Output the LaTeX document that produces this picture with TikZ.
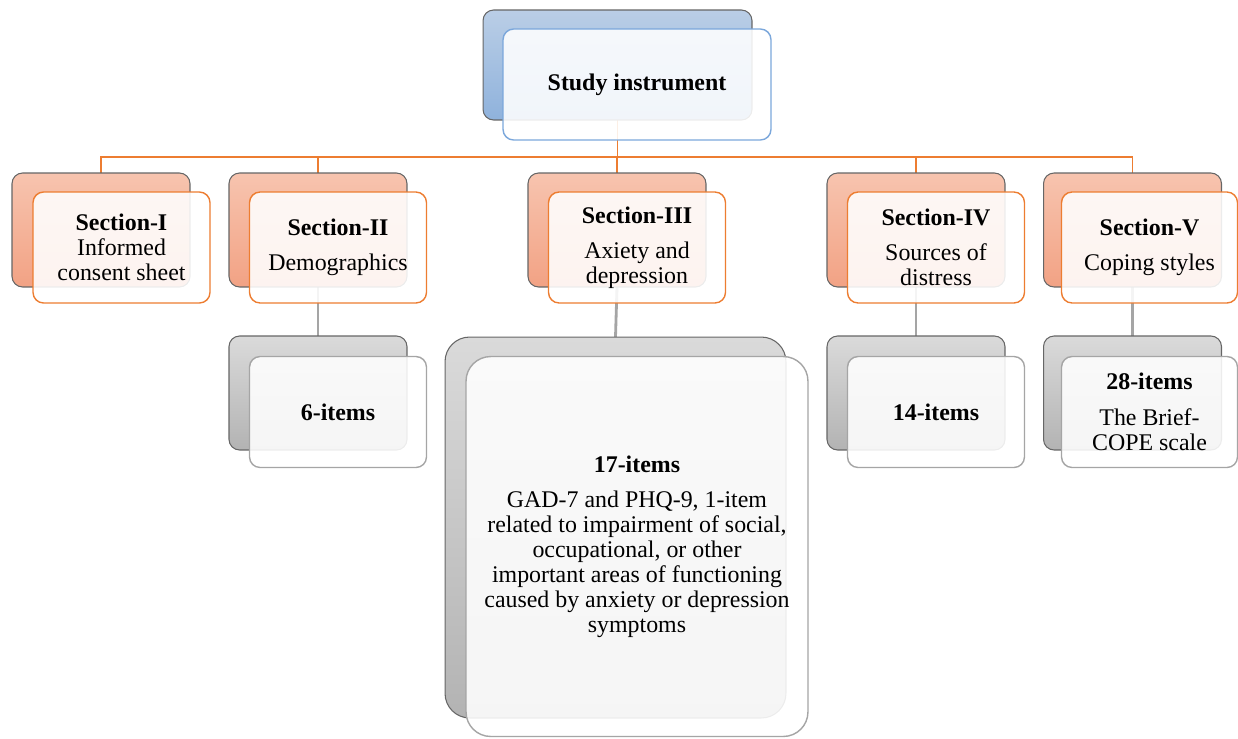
\documentclass[tikz,border=0pt]{standalone}
\usepackage{fontspec}
\setmainfont{Liberation Serif}
\usetikzlibrary{backgrounds}

\definecolor{bluetop}{HTML}{BACEE6}
\definecolor{bluebot}{HTML}{8FB2DC}
\definecolor{blueline}{HTML}{7BA7DB}
\definecolor{orgtop}{HTML}{F7C4AF}
\definecolor{orgbot}{HTML}{F2A284}
\definecolor{orgline}{HTML}{ED7D31}
\definecolor{graytop}{HTML}{DADADA}
\definecolor{graybot}{HTML}{B3B3B3}
\definecolor{grayline}{HTML}{A5A5A5}

\begin{document}
\begin{tikzpicture}[x=0.02cm, y=-0.02cm,
        txt/.style={font=\fontsize{13.6}{14.2}\selectfont, align=center},
        backbox/.style={draw=black!60, line width=0.6pt, rounded corners=6pt,
            inner sep=0pt, outer sep=0pt, minimum width=3.56cm, minimum height=2.28cm},
        frontbox/.style={txt, line width=0.8pt, rounded corners=6pt, fill=white,
            fill opacity=0.88, text opacity=1, inner sep=0pt, outer sep=0pt,
            minimum width=3.54cm, minimum height=2.22cm},
        bluebox/.style={backbox, top color=bluetop, bottom color=bluebot},
        orgbox/.style={backbox, top color=orgtop, bottom color=orgbot},
        graybox/.style={backbox, top color=graytop, bottom color=graybot},
        orgline/.style={draw=orgline, line width=1.1pt},
        grayline/.style={draw=grayline, line width=1.6pt}]
    \useasboundingbox (0, 0) rectangle (1238, 738);

    %%top box
    \node[bluebox, minimum width=5.38cm, minimum height=2.2cm](rootb) at (617.5, 65){};
    \coordinate (bus) at (617.5, 157);

    %%section boxes
    \node[orgbox](s1b) at (101, 230){};
    \node[orgbox](s2b) at (318, 230){};
    \node[orgbox](s3b) at (617, 230){};
    \node[orgbox](s4b) at (916, 230){};
    \node[orgbox](s5b) at (1132.5, 230){};

    %%item boxes
    \node[graybox](i2b) at (318, 393){};
    \node[graybox, rounded corners=14pt, minimum width=6.82cm, minimum height=7.62cm](i3b) at (615.5, 527.5){};
    \node[graybox](i4b) at (916, 393){};
    \node[graybox](i5b) at (1132.5, 393){};

    %%connectors
    \begin{pgfonlayer}{background}
        \draw[orgline](rootb.south) -- (bus);
        \foreach \s in {s1b, s2b, s3b, s4b, s5b}
            \draw[orgline](\s.north) |- (bus);
        \draw[grayline](s2b.south) -- (i2b.north);
        \draw[grayline](s3b.south) -- (i3b.north);
        \draw[grayline](s4b.south) -- (i4b.north);
        \draw[grayline](s5b.south) -- (i5b.north);
    \end{pgfonlayer}

    %%front boxes
    \node[frontbox, draw=blueline, minimum width=5.36cm](root) at (637, 84.5){\textbf{Study instrument}};

    \node[frontbox, draw=orgline](s1) at (121.5, 247.5){\textbf{Section-I}\\Informed\\consent sheet};
    \node[frontbox, draw=orgline](s2) at (338, 247.5){\textbf{Section-II}\\[6pt]Demographics};
    \node[frontbox, draw=orgline](s3) at (637, 247.5){\textbf{Section-III}\\[6pt]Axiety and\\depression};
    \node[frontbox, draw=orgline](s4) at (936, 247.5){\textbf{Section-IV}\\[6pt]Sources of\\distress};
    \node[frontbox, draw=orgline, minimum width=3.52cm](s5) at (1149.5, 247.5){\textbf{Section-V}\\[6pt]Coping styles};

    \node[frontbox, draw=grayline](i2) at (338, 412){\textbf{6-items}};
    \node[frontbox, draw=grayline, rounded corners=14pt, minimum width=6.84cm, minimum height=7.6cm](i3) at (637, 546.5)
        {\textbf{17-items}\\[6pt]GAD-7 and PHQ-9, 1-item\\related to impairment of social,\\occupational, or other\\important areas of functioning\\caused by anxiety or depression\\symptoms};
    \node[frontbox, draw=grayline](i4) at (936, 412){\textbf{14-items}};
    \node[frontbox, draw=grayline, minimum width=3.52cm](i5) at (1149.5, 412){\textbf{28-items}\\[6pt]The Brief-\\COPE scale};
\end{tikzpicture}
\end{document}
